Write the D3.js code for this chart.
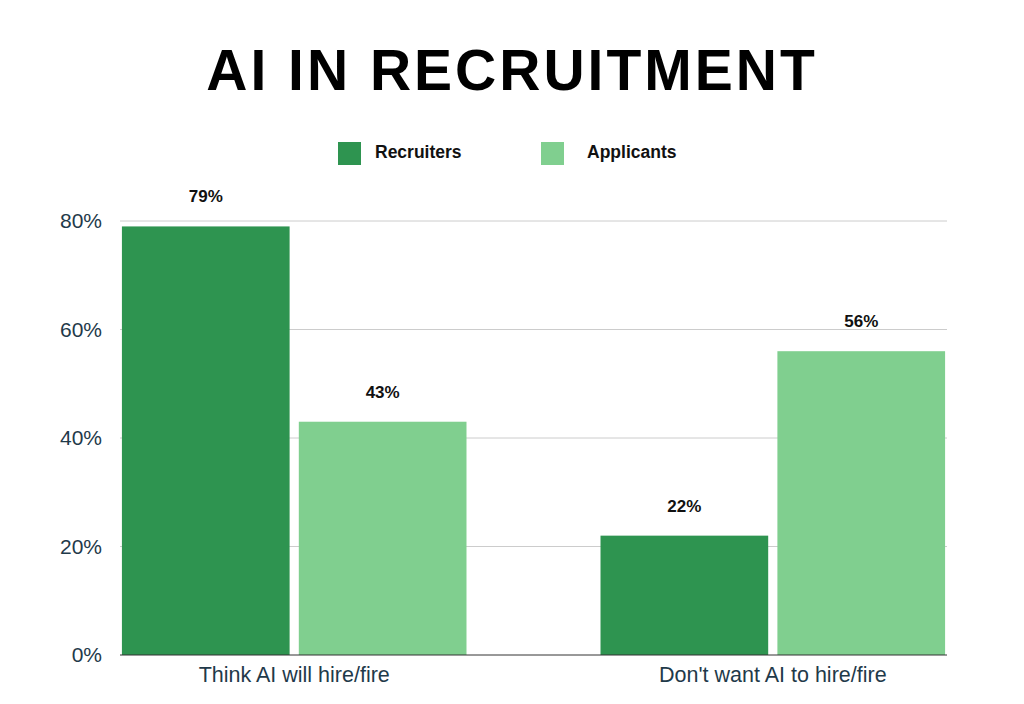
<!DOCTYPE html>
<html><head><meta charset="utf-8">
<script src="https://cdn.jsdelivr.net/npm/d3@7"></script>
<style>body{margin:0;background:#fff}</style></head>
<body><svg id="c" width="1024" height="704"></svg>
<script>
const categories = ["Think AI will hire/fire", "Don't want AI to hire/fire"];
const seriesNames = ["Recruiters", "Applicants"];
const recruiters = [79, 22];
const applicants = [43, 56];
const yTicks = [0, 20, 40, 60, 80];
const colors = ["#2e9450", "#80cf8f"];

const svg = d3.select("#c");
const font = "Liberation Sans, Arial, sans-serif";
const L = 120, R = 947, T = 221, B = 655;
const y = d3.scaleLinear().domain([0, 80]).range([B, T]);
const x0 = d3.scaleBand().domain(categories).range([L, R]).paddingInner(0.28).paddingOuter(0.004);
const x1 = d3.scaleBand().domain(seriesNames).range([0, x0.bandwidth()]).paddingInner(0.052);

svg.append("text").attr("x", 512).attr("y", 90).attr("text-anchor", "middle")
  .attr("font-family", font).attr("font-weight", "bold").attr("font-size", 57)
  .attr("letter-spacing", 3).attr("fill", "#000").text("AI IN RECRUITMENT");

// legend
const legX = [338, 541];
const legTX = [375, 587];
seriesNames.forEach((s, i) => {
  svg.append("rect").attr("x", legX[i]).attr("y", 142).attr("width", 23).attr("height", 23).attr("fill", colors[i]);
  svg.append("text").attr("x", legTX[i]).attr("y", 158).attr("font-family", font)
    .attr("font-weight", "bold").attr("font-size", 17.5).attr("fill", "#111").text(s);
});

// grid
svg.append("g").selectAll("line").data(yTicks.filter(d => d > 0)).join("line")
  .attr("x1", L).attr("x2", R).attr("y1", d => y(d)).attr("y2", d => y(d))
  .attr("stroke", "#cccccc").attr("stroke-width", 1);

const yAxis = svg.append("g").attr("transform", `translate(${L},0)`)
  .call(d3.axisLeft(y).tickValues(yTicks).tickFormat(d => d + "%").tickSize(0).tickPadding(18));
yAxis.select(".domain").remove();
yAxis.selectAll("text").attr("font-family", font).attr("font-size", 21).attr("fill", "#1f3a4a");

const data = categories.map((c, i) => ({c, vals: [recruiters[i], applicants[i]]}));
const g = svg.append("g").selectAll("g").data(data).join("g")
  .attr("transform", d => `translate(${x0(d.c)},0)`);
g.selectAll("rect").data(d => d.vals.map((v, i) => ({v, s: seriesNames[i], i}))).join("rect")
  .attr("x", d => x1(d.s)).attr("width", x1.bandwidth())
  .attr("y", d => y(d.v)).attr("height", d => B - y(d.v)).attr("fill", d => colors[d.i]);
g.selectAll("text").data(d => d.vals.map((v, i) => ({v, s: seriesNames[i]}))).join("text")
  .attr("x", d => x1(d.s) + x1.bandwidth() / 2).attr("y", d => y(d.v) - 24)
  .attr("text-anchor", "middle").attr("font-family", font).attr("font-weight", "bold")
  .attr("font-size", 17).attr("fill", "#111").text(d => d.v + "%");

svg.append("line").attr("x1", L).attr("x2", R).attr("y1", B).attr("y2", B).attr("stroke", "#333");

const xAxis = svg.append("g").attr("transform", `translate(0,${B})`)
  .call(d3.axisBottom(x0).tickSize(0).tickPadding(12));
xAxis.select(".domain").remove();
xAxis.selectAll("text").attr("font-family", font).attr("font-size", 21.5).attr("fill", "#1f3a4a");
</script></body></html>
